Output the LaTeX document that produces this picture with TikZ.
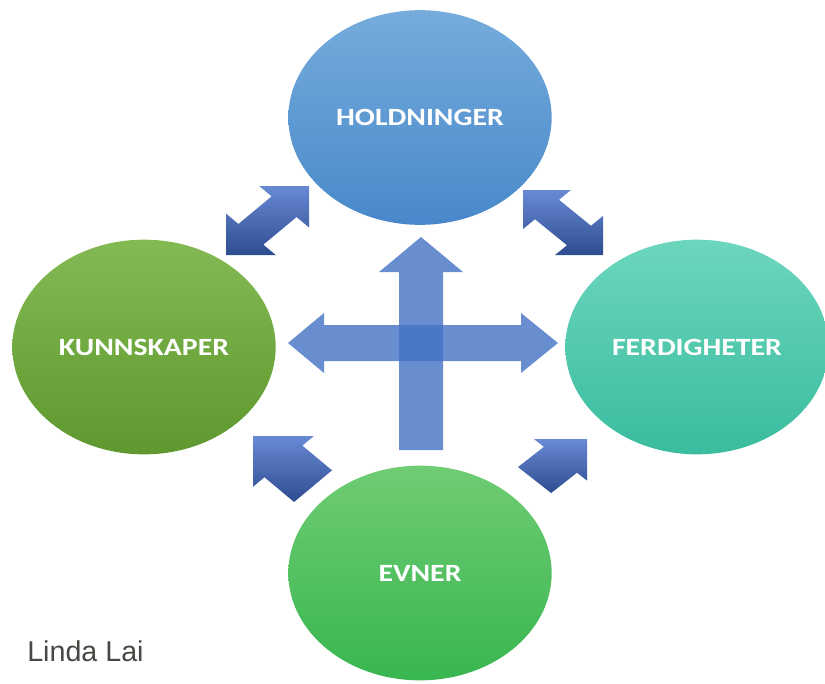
\documentclass[tikz,border=0pt]{standalone}
\usepackage{fontspec}
\usepackage{graphicx}
\setmainfont{Carlito}
\newfontfamily\creditfont{Liberation Sans}
\usetikzlibrary{shapes.geometric}

\definecolor{holdTop}{RGB}{118,172,220}
\definecolor{holdBot}{RGB}{72,136,202}
\definecolor{kunnTop}{RGB}{132,186,84}
\definecolor{kunnBot}{RGB}{94,152,46}
\definecolor{ferdTop}{RGB}{108,214,190}
\definecolor{ferdBot}{RGB}{58,188,158}
\definecolor{evnTop}{RGB}{112,204,116}
\definecolor{evnBot}{RGB}{56,182,80}
\definecolor{crossblue}{RGB}{68,114,196}
\definecolor{bevelTop}{RGB}{104,138,212}
\definecolor{bevelBot}{RGB}{46,76,144}
\definecolor{credit}{RGB}{74,71,67}

\begin{document}
\begin{tikzpicture}[x=0.75pt,y=-0.75pt,
  bubble/.style={ellipse, inner sep=0pt, minimum width=197.5pt, minimum height=161pt,
    text=white, font=\bfseries\fontsize{18.6}{22}\selectfont},
  crossarrow/.style={fill=crossblue, fill opacity=0.8},
  cornerarrow/.style={top color=bevelTop, bottom color=bevelBot, draw=none},
  label/.style={text=credit, font=\creditfont\fontsize{21.5}{24}\selectfont, inner sep=0pt}
]
\useasboundingbox (0,0) rectangle (825,683);
\clip (0,0) rectangle (825,683);

% the four bubbles
\node[bubble, top color=holdTop, bottom color=holdBot] (hold) at (420,117.5) {\scalebox{1.2}[1]{HOLDNINGER}};
\node[bubble, top color=kunnTop, bottom color=kunnBot] (kunn) at (144,347) {\scalebox{1.2}[1]{KUNNSKAPER}};
\node[bubble, top color=ferdTop, bottom color=ferdBot] (ferd) at (697,347) {\scalebox{1.2}[1]{FERDIGHETER}};
\node[bubble, top color=evnTop, bottom color=evnBot] (evn) at (420,573) {\scalebox{1.2}[1]{EVNER}};

% central cross: left-right and upward block arrows
\coordinate (hL) at (288,343);
\coordinate (hR) at (558,343);
\coordinate (vT) at (421,237);
\coordinate (vB) at (421,450);
\fill[crossarrow] (hL) -- ++(36,-30) -- ++(0,12) -- (521,325) -- (521,313) -- (hR)
  -- (521,373) -- (521,361) -- (324,361) -- (324,373) -- cycle;
\fill[crossarrow] (vT) -- (463,272) -- (443,272) -- (443,450) -- (399,450)
  -- (399,272) -- (379,272) -- cycle;

% diagonal double arrows between the upper bubbles
\def\dblarrow{(1,0) -- (0.4,0) -- (0.55,0.15) -- (0.15,0.55) -- (0,0.4) -- (0,1)
  -- (0.6,1) -- (0.45,0.85) -- (0.85,0.45) -- (1,0.6) -- cycle}
\begin{scope}[shift={(226,186)}, xscale=83, yscale=69]
  \shade[cornerarrow] \dblarrow;
\end{scope}
\begin{scope}[shift={(603,190)}, xscale=-80, yscale=65]
  \shade[cornerarrow] \dblarrow;
\end{scope}

% single arrows rising from the lower bubble
\def\sglarrow{(0,0) -- (0.77,0) -- (0.625,0.145) -- (1,0.52) -- (0.52,1)
  -- (0.145,0.625) -- (0,0.77) -- cycle}
\begin{scope}[shift={(253,436)}, xscale=79, yscale=66]
  \shade[cornerarrow] \sglarrow;
\end{scope}
\begin{scope}[shift={(587,439)}, xscale=-69, yscale=54]
  \shade[cornerarrow] \sglarrow;
\end{scope}

\node[label, anchor=base west] (author) at (27,661) {Linda Lai};
\end{tikzpicture}
\end{document}
